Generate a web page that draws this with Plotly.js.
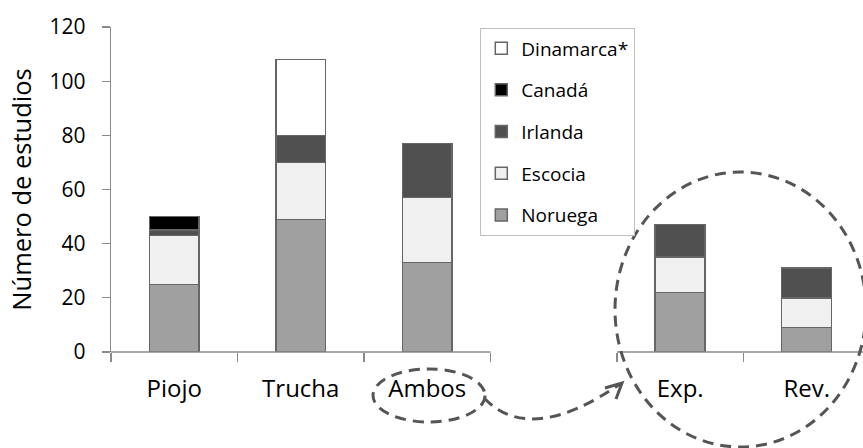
<!DOCTYPE html>
<html>
<head>
<meta charset="utf-8">
<script src="https://cdn.plot.ly/plotly-3.0.1.min.js"></script>
<style>html,body{margin:0;padding:0;background:#fff;}#chart{width:863px;height:448px;}</style>
</head>
<body>
<div id="chart"></div>
<script>
// Data
const categories = ['Piojo', 'Trucha', 'Ambos', ' ', 'Exp.', 'Rev.'];
const barCategories = ['Piojo', 'Trucha', 'Ambos', 'Exp.', 'Rev.'];
const noruega   = [25, 49, 33, 22, 9];
const escocia   = [18, 21, 24, 13, 11];
const irlanda   = [2, 10, 20, 12, 11];
const canada    = [5, 0, 0, 0, 0];
const dinamarca = [0, 28, 0, 0, 0];
const seriesNames = ['Noruega', 'Escocia', 'Irlanda', 'Canadá', 'Dinamarca*'];
const seriesValues = [noruega, escocia, irlanda, canada, dinamarca];
const seriesColors = ['#a0a0a0', '#f0f0f0', '#505050', '#000000', '#ffffff'];
const yTicks = [0, 20, 40, 60, 80, 100, 120];

const FONT = 'Open Sans, sans-serif';
const W = 863, H = 448;
const M = {l: 111, r: 0, t: 27, b: 96};
const pw = W - M.l - M.r, ph = H - M.t - M.b;
const px = x => (x - M.l) / pw;
const py = y => (H - M.b - y) / ph;

const traces = seriesNames.map((name, i) => ({
  type: 'bar',
  name: name,
  legendgroup: 'g' + i,
  legendrank: 1000 - i,
  x: barCategories,
  y: seriesValues[i],
  marker: {color: seriesColors[i], line: {color: '#666666', width: 1.5}},
  hoverinfo: 'x+y+name'
}));

const axisColor = '#8a8a8a';
const dashLine = {color: '#555555', width: 3, dash: '11px,7px'};

const shapes = [
  // broken x-axis line
  {type: 'line', xref: 'x', yref: 'paper', x0: -0.5, x1: 2.5, y0: 0, y1: 0, line: {color: axisColor, width: 1.3}},
  {type: 'line', xref: 'x', yref: 'paper', x0: 3.5, x1: 5.6, y0: 0, y1: 0, line: {color: axisColor, width: 1.3}},
  // ellipse round "Ambos"
  {type: 'circle', xref: 'paper', yref: 'paper', x0: px(373), x1: px(485), y0: py(369), y1: py(422), line: dashLine},
  // big ellipse round Exp./Rev.
  {type: 'circle', xref: 'paper', yref: 'paper', x0: px(615), x1: px(866), y0: py(172), y1: py(447), line: dashLine},
  // curved arrow
  {type: 'path', xref: 'paper', yref: 'paper',
   path: 'M ' + px(484) + ' ' + py(398) + ' Q ' + px(530) + ' ' + py(446) + ' ' + px(620) + ' ' + py(384),
   line: dashLine},
  {type: 'path', xref: 'paper', yref: 'paper',
   path: 'M ' + px(605) + ' ' + py(388) + ' L ' + px(622) + ' ' + py(383) + ' L ' + px(616) + ' ' + py(399),
   line: {color: '#555555', width: 3}}
];

const layout = {
  width: W, height: H,
  margin: M,
  paper_bgcolor: '#ffffff',
  plot_bgcolor: '#ffffff',
  barmode: 'stack',
  bargap: 0.605,
  showlegend: true,
  font: {family: FONT, color: '#000000'},
  xaxis: {
    type: 'category',
    categoryorder: 'array',
    categoryarray: categories,
    range: [-0.5, 5.445],
    tickson: 'boundaries',
    ticks: 'outside',
    ticklen: 9,
    tickwidth: 1.3,
    tickcolor: axisColor,
    showline: false,
    showgrid: false,
    zeroline: false,
    tickfont: {family: FONT, size: 24, color: '#000000'},
    ticklabelstandoff: 20,
    fixedrange: true
  },
  yaxis: {
    range: [0, 120],
    tickvals: yTicks,
    ticks: 'outside',
    ticklen: 8,
    tickwidth: 1.3,
    tickcolor: axisColor,
    showline: true,
    linecolor: axisColor,
    linewidth: 1.3,
    showgrid: false,
    zeroline: false,
    tickfont: {family: FONT, size: 21, color: '#000000'},
    ticklabelstandoff: 12,
    title: {text: 'Número de estudios', font: {family: FONT, size: 25.5, color: '#000000'}, standoff: 10},
    fixedrange: true
  },
  legend: {
    x: px(480), y: py(28), xanchor: 'left', yanchor: 'top',
    bgcolor: '#ffffff',
    bordercolor: '#bfbfbf',
    borderwidth: 1.3,
    traceorder: 'grouped',
    tracegroupgap: 14,
    itemwidth: 30,
    font: {family: FONT, size: 19, color: '#000000'}
  },
  shapes: shapes
};

Plotly.newPlot('chart', traces, layout, {displayModeBar: false, staticPlot: true});
</script>
</body>
</html>
